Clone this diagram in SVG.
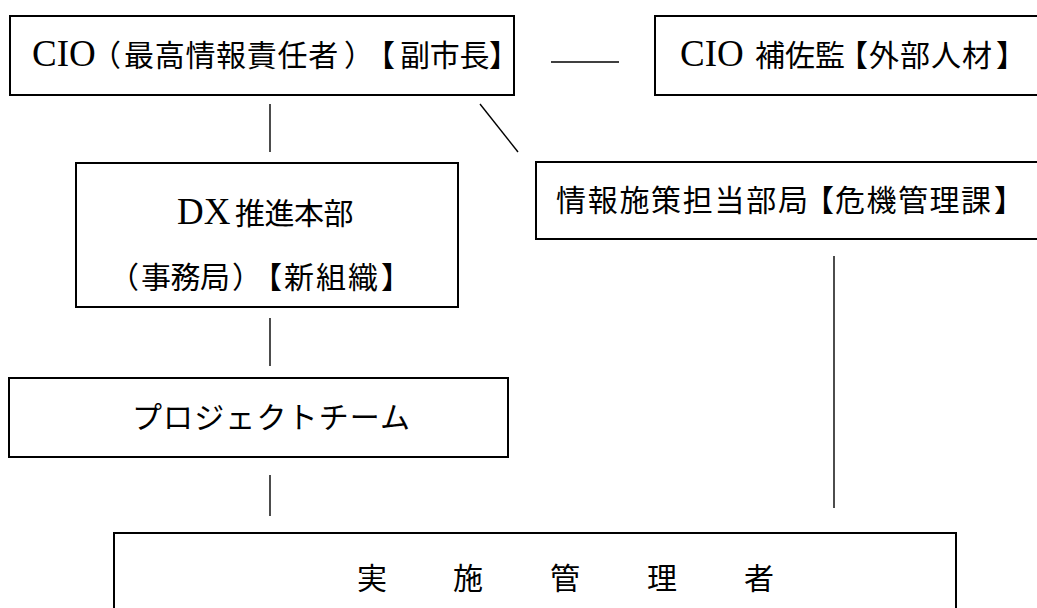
<svg xmlns="http://www.w3.org/2000/svg" width="1037" height="608" viewBox="0 0 1037 608">
<style>
.box{fill:#fff;stroke:#000;stroke-width:2}
.ln{stroke:#000;stroke-width:1.4;fill:none}
.t{font-family:"Liberation Serif","Noto Sans CJK JP",serif;font-size:30px;fill:#000}
.l{font-size:37px}
.h{font-feature-settings:"halt" 1}
</style>
<rect width="1037" height="608" fill="#fff"/>
<g id="connectors">
<line class="ln" x1="551" y1="62" x2="619" y2="62"/>
<line class="ln" x1="270" y1="104" x2="270" y2="152"/>
<line class="ln" x1="480" y1="104" x2="518" y2="152"/>
<line class="ln" x1="270" y1="318" x2="270" y2="366"/>
<line class="ln" x1="270" y1="475" x2="270" y2="516"/>
<line class="ln" x1="834" y1="256" x2="834" y2="508"/>
</g>
<g id="cio">
<rect class="box" x="10" y="16" width="504" height="79"/>
<text class="t" y="66"><tspan class="l" x="32">CIO</tspan><tspan class="h" x="106">（</tspan><tspan x="124" letter-spacing="0.7">最高情報責任者</tspan><tspan class="h" x="344">）</tspan><tspan class="h" x="380">【</tspan><tspan x="400" letter-spacing="-0.3">副市長</tspan><tspan class="h" x="489">】</tspan></text>
</g>
<g id="cio-assist">
<rect class="box" x="655" y="16" width="400" height="79"/>
<text class="t" y="66"><tspan class="l" x="680">CIO</tspan><tspan x="755">補佐監</tspan><tspan class="h" x="853">【</tspan><tspan x="869" letter-spacing="1">外部人材</tspan><tspan class="h" x="996">】</tspan></text>
</g>
<g id="dx">
<rect class="box" x="76" y="163" width="382" height="144"/>
<text class="t" y="224"><tspan class="l" x="177" font-size="33">DX</tspan><tspan x="235" letter-spacing="-0.5">推進本部</tspan></text>
<text class="t" y="288"><tspan class="h" x="124">（</tspan><tspan x="141" letter-spacing="-0.5">事務局</tspan><tspan class="h" x="232">）</tspan><tspan class="h" x="267">【</tspan><tspan x="284" letter-spacing="2">新組織</tspan><tspan class="h" x="381">】</tspan></text>
</g>
<g id="info">
<rect class="box" x="536" y="162" width="520" height="77"/>
<text class="t" y="211"><tspan x="556" letter-spacing="1.7">情報施策担当部局</tspan><tspan class="h" x="819">【</tspan><tspan x="835" letter-spacing="1.5">危機管理課</tspan><tspan class="h" x="994">】</tspan></text>
</g>
<g id="pt">
<rect class="box" x="9" y="378" width="499" height="79"/>
<text class="t" x="132" y="428" textLength="278">プロジェクトチーム</text>
</g>
<g id="impl">
<rect class="box" x="114" y="533" width="842" height="100"/>
<text class="t" x="357 453 550 647 744" y="589">実施管理者</text>
</g>
</svg>
